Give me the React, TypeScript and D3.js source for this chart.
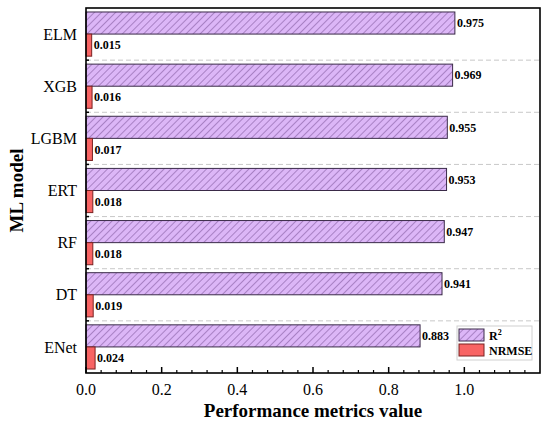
import React from "react";
import * as d3 from "d3";

const models = ["ELM", "XGB", "LGBM", "ERT", "RF", "DT", "ENet"];
const r2Values = [0.975, 0.969, 0.955, 0.953, 0.947, 0.941, 0.883];
const nrmseValues = [0.015, 0.016, 0.017, 0.018, 0.018, 0.019, 0.024];
const seriesNames = ["R2", "NRMSE"];
const xTicks = [0, 0.2, 0.4, 0.6, 0.8, 1.0];

const W = 550;
const H = 426;
const M = { left: 86, right: 10, top: 8, bottom: 53 };
const serif = "'Liberation Serif', 'DejaVu Serif', serif";

export default function App() {
  const x = d3.scaleLinear().domain([0, 1.2]).range([M.left, W - M.right]);
  const y = d3.scaleBand<string>().domain(models).range([M.top, H - M.bottom]).padding(0);
  const inner = d3
    .scaleBand<string>()
    .domain(seriesNames)
    .range([0, y.bandwidth()])
    .paddingInner(0)
    .paddingOuter(0.18);

  const minorTicks = d3.range(0, 1.2001, 0.04).filter((v) => Math.abs(v / 0.2 - Math.round(v / 0.2)) > 1e-6);
  const x0 = M.left;
  const x1 = W - M.right;
  const y0 = M.top;
  const y1 = H - M.bottom;
  const ts: React.CSSProperties = { fontFamily: serif };

  return (
    <svg width={W} height={H} style={{ position: "absolute", left: 0, top: 0, fontFamily: serif }}>
      <defs>
        <pattern id="hatch" patternUnits="userSpaceOnUse" width="5" height="5" patternTransform="rotate(45)">
          <rect width="5" height="5" fill="#dcb6f7" />
          <line x1="0" y1="0" x2="0" y2="5" stroke="#7d559a" strokeWidth="1.1" />
        </pattern>
      </defs>
      <rect x={0} y={0} width={W} height={H} fill="#fff" />

      {models.slice(1).map((m) => (
        <line
          key={"g" + m}
          x1={x0}
          x2={x1}
          y1={y(m)!}
          y2={y(m)!}
          stroke="#c8c8c8"
          strokeDasharray="5,3"
          strokeWidth={1}
        />
      ))}

      {models.map((m, i) => {
        const by = y(m)!;
        const ry = by + inner("R2")!;
        const ny = by + inner("NRMSE")!;
        const bh = inner.bandwidth();
        return (
          <g key={m}>
            <rect x={x(0)} y={ry} width={x(r2Values[i]) - x(0)} height={bh} fill="url(#hatch)" stroke="#3a2a48" strokeWidth={1} />
            <rect x={x(0)} y={ny} width={x(nrmseValues[i]) - x(0)} height={bh} fill="#f86464" stroke="#7a2222" strokeWidth={1} />
            <text style={ts} x={x(r2Values[i]) + 2} y={ry + bh / 2} dy="0.35em" fontSize={12} fontWeight="bold" fill="#000">
              {r2Values[i].toFixed(3)}
            </text>
            <text style={ts} x={x(nrmseValues[i]) + 2} y={ny + bh / 2} dy="0.35em" fontSize={12} fontWeight="bold" fill="#000">
              {nrmseValues[i].toFixed(3)}
            </text>
            <text style={ts} x={x0 - 9} y={by + y.bandwidth() / 2} dy="0.35em" textAnchor="end" fontSize={16} fill="#000">
              {m}
            </text>
          </g>
        );
      })}

      {models.slice(1).map((m) => (
        <line key={"yt" + m} x1={x0} x2={x0 + 3} y1={y(m)!} y2={y(m)!} stroke="#000" strokeWidth={1.5} />
      ))}

      {xTicks.map((t) => (
        <g key={"xt" + t}>
          <line x1={x(t)} x2={x(t)} y1={y1} y2={y1 - 6} stroke="#000" strokeWidth={1.5} />
          <text style={ts} x={x(t)} y={y1 + 22} textAnchor="middle" fontSize={16} fill="#000">
            {t.toFixed(1)}
          </text>
        </g>
      ))}
      {minorTicks.map((t) => (
        <line key={"mt" + t} x1={x(t)} x2={x(t)} y1={y1} y2={y1 - 3} stroke="#000" strokeWidth={1.2} />
      ))}

      <rect x={x0} y={y0} width={x1 - x0} height={y1 - y0} fill="none" stroke="#000" strokeWidth={1.6} />

      <g>
        <rect x={457} y={326} width={75} height={34} fill="#fff" stroke="#d0d0d0" strokeWidth={1} />
        <rect x={459} y={329} width={25} height={12} fill="url(#hatch)" stroke="#3a2a48" strokeWidth={1} />
        <text style={ts} x={489} y={339.5} fontSize={12} fontWeight="bold" fill="#000">
          R<tspan fontSize={8} dy={-5}>2</tspan>
        </text>
        <rect x={459} y={344} width={25} height={12} fill="#f86464" stroke="#7a2222" strokeWidth={1} />
        <text style={ts} x={489} y={354.5} fontSize={12} fontWeight="bold" fill="#000">
          NRMSE
        </text>
      </g>

      <text style={ts} x={(x0 + x1) / 2} y={417} textAnchor="middle" fontSize={19} fontWeight="bold" fill="#000">
        Performance metrics value
      </text>
      <text
        style={ts}
        transform={`translate(${23},${(y0 + y1) / 2}) rotate(-90)`}
        textAnchor="middle"
        fontSize={19}
        fontWeight="bold"
        fill="#000"
      >
        ML model
      </text>
    </svg>
  );
}
